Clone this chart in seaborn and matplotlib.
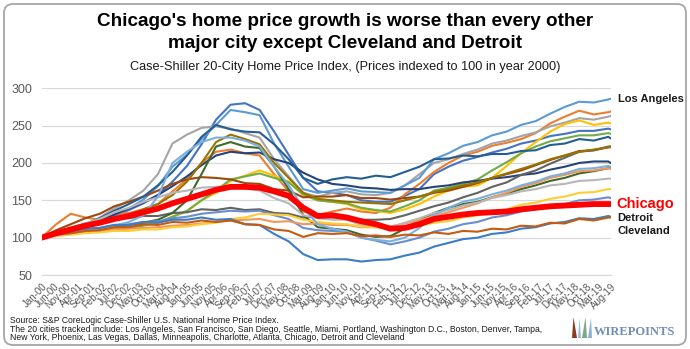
import numpy as np
import pandas as pd
import matplotlib
matplotlib.use("Agg")
import matplotlib.pyplot as plt
import seaborn as sns
from matplotlib.patches import FancyBboxPatch, Polygon

# ---------------- data (semi-annual readings, Jan & Jul, plus Aug-19) ----------------
periods = [f"{y}-{m:02d}" for y in range(2000, 2020) for m in (1, 7)] + ["2019-08"]

miami = [100,104,109,115,121,129,137,146,157,175,196,225,258,278,280,271,242,211,180,162,
         160,157,150,148,148,156,165,185,195,203,208,214,219,226,230,236,239,243,243,246,245]
san_francisco = [100,118,132,127,124,131,133,138,145,162,178,200,215,218,213,210,185,162,135,130,
                 135,139,135,133,140,158,172,188,200,210,215,223,227,232,240,253,262,270,265,268,269]
san_diego = [100,107,112,118,127,139,150,163,185,226,238,247,249,246,240,234,205,182,160,155,
             160,162,158,157,160,170,185,200,205,212,218,226,230,236,241,249,254,260,258,262,263]
seattle = [100,104,106,109,110,113,114,118,120,128,135,150,160,176,183,190,183,175,157,150,
           148,145,138,136,133,138,145,155,163,168,170,180,196,213,228,242,252,257,251,254,253]
los_angeles = [100,104,109,114,120,130,139,151,169,195,211,232,251,271,268,264,226,195,165,160,
               163,166,162,161,160,170,180,205,213,223,228,237,242,251,256,266,275,282,281,285,286]
portland = [100,103,105,107,109,111,113,116,120,128,136,150,163,178,182,186,180,174,158,150,
            148,146,140,137,135,142,150,163,167,172,178,190,201,213,222,229,233,237,237,240,239]
new_york = [100,105,110,116,122,131,139,147,157,169,182,197,210,215,213,214,205,200,187,178,
            172,170,167,166,164,165,165,168,170,174,176,179,181,184,186,191,195,200,202,202,200]
boston = [100,110,118,126,132,142,148,155,163,172,178,181,180,178,173,172,165,163,154,155,
          155,157,153,153,151,153,155,160,163,168,173,180,185,190,197,204,210,216,217,221,222]
denver = [100,108,113,119,122,126,126,129,129,133,134,138,137,140,137,138,133,132,127,128,
          127,128,124,124,125,130,136,142,147,154,160,168,174,184,190,199,207,215,217,222,222]
tampa = [100,104,109,114,119,125,131,138,145,157,175,200,228,238,232,225,200,180,160,152,
         150,148,147,146,145,150,155,161,165,170,174,180,186,192,198,205,210,215,218,221,221]
washington = [100,106,111,118,126,136,145,155,170,188,210,235,251,245,242,241,225,205,180,172,
              178,181,179,183,181,188,195,205,206,210,209,212,212,216,217,224,226,232,230,235,233]
phoenix = [100,103,106,108,111,114,117,120,124,133,150,185,222,228,222,220,195,165,130,114,
           112,110,104,101,102,112,123,133,140,145,148,154,159,165,170,176,180,186,189,193,194]
atlanta = [100,104,107,111,113,117,118,121,122,126,128,132,134,136,135,136,130,125,113,110,
           109,108,100,96,91,95,100,108,112,118,121,127,130,135,138,143,145,150,151,154,153]
dallas = [100,103,106,108,110,111,112,113,114,116,117,119,121,123,124,125,121,122,118,119,
          117,117,114,114,115,119,123,129,134,140,146,154,160,168,173,180,184,189,190,193,192]
minneapolis = [100,106,112,119,125,134,140,148,154,160,163,167,168,169,166,163,153,146,130,126,
               124,124,117,116,114,120,126,133,137,143,147,153,157,162,165,170,172,176,177,179,179]
charlotte = [100,102,104,106,107,109,109,111,111,114,115,118,120,125,127,132,131,130,124,121,
             119,118,115,114,112,114,116,120,122,127,130,135,138,144,147,152,155,160,161,165,165]
las_vegas = [100,103,106,109,112,116,121,130,155,200,215,228,234,234,230,222,195,170,140,118,
             112,108,100,97,95,100,113,130,140,148,152,158,163,170,175,182,186,192,193,196,195]
detroit = [100,105,108,112,113,117,117,121,120,124,124,127,124,125,118,117,105,95,78,70,
           71,71,68,70,71,76,80,88,93,98,100,105,107,112,114,119,121,126,125,129,128]
cleveland = [100,104,106,109,110,114,114,118,117,121,120,123,121,123,118,117,111,109,101,106,
             105,106,102,103,101,104,103,107,105,109,108,112,111,116,115,120,119,125,123,127,127]
chicago = [100,106,111,116,120,125,129,134,139,146,152,158,164,168,168,167,162,156,140,129,
           130,127,122,118,112,113,118,125,128,131,133,134,135,138,140,142,143,144,145,145,145]

series = {
    "Miami": miami, "San Francisco": san_francisco, "San Diego": san_diego,
    "Seattle": seattle, "Los Angeles": los_angeles, "Portland": portland,
    "New York": new_york, "Boston": boston, "Denver": denver, "Tampa": tampa,
    "Washington D.C.": washington, "Phoenix": phoenix, "Atlanta": atlanta,
    "Dallas": dallas, "Minneapolis": minneapolis, "Charlotte": charlotte,
    "Las Vegas": las_vegas, "Detroit": detroit, "Cleveland": cleveland,
    "Chicago": chicago,
}
colors = {
    "Miami": "#4472C4", "San Francisco": "#ED7D31", "San Diego": "#A5A5A5",
    "Seattle": "#FFC000", "Los Angeles": "#5B9BD5", "Portland": "#70AD47",
    "New York": "#264478", "Boston": "#9E480E", "Denver": "#636363",
    "Tampa": "#997300", "Washington D.C.": "#255E91", "Phoenix": "#43682B",
    "Atlanta": "#698ED0", "Dallas": "#F1975A", "Minneapolis": "#B7B7B7",
    "Charlotte": "#FFCD33", "Las Vegas": "#7CAFDD", "Detroit": "#3B7DC6",
    "Cleveland": "#C55A11", "Chicago": "#FF0000",
}

# ---------------- build long table ----------------
dates = pd.to_datetime(periods, format="%Y-%m")
midx = (dates.year - 2000) * 12 + dates.month - 1
rows = []
for city, vals in series.items():
    for m, v in zip(midx, vals):
        rows.append((city, m, v))
df = pd.DataFrame(rows, columns=["city", "month", "index"])

tick_dates = pd.date_range("2000-01-01", "2019-08-01", freq="5MS")
tick_pos = (tick_dates.year - 2000) * 12 + tick_dates.month - 1
tick_labels = [d.strftime("%b-%y") for d in tick_dates]

# ---------------- figure ----------------
sns.set_theme(style="white")
plt.rcParams["font.family"] = ["Liberation Sans", "DejaVu Sans"]

W, H = 690, 349
fig = plt.figure(figsize=(W / 100, H / 100), dpi=100)

# frame / decoration layer in pixel coordinates
bg = fig.add_axes([0, 0, 1, 1], zorder=0)
bg.set_xlim(0, W)
bg.set_ylim(H, 0)
bg.axis("off")
bg.add_patch(FancyBboxPatch((4, 4), W - 8, H - 8,
                            boxstyle="round,pad=0,rounding_size=9",
                            fill=False, ec="#A6A6A6", lw=1.3))

ax = fig.add_axes([41.7 / W, 1 - 275 / H, (610.7 - 41.7) / W, (275 - 88.3) / H], zorder=1)
ax.patch.set_alpha(0)

others = df[df.city != "Chicago"]
order = [c for c in series if c != "Chicago"]
sns.lineplot(data=others, x="month", y="index", hue="city", hue_order=order,
             palette=colors, linewidth=1.5, legend=False, ax=ax,
             estimator=None, sort=True)
sns.lineplot(data=df[df.city == "Chicago"], x="month", y="index",
             color=colors["Chicago"], linewidth=4.2, legend=False, ax=ax,
             estimator=None, sort=True)

ax.set_xlim(0, 235)
ax.set_ylim(50, 300)
ax.set_yticks(range(50, 301, 50))
ax.set_xticks(tick_pos)
ax.set_xticklabels(tick_labels, rotation=45, ha="right", rotation_mode="anchor",
                   fontsize=7, color="#595959")
ax.tick_params(axis="y", labelsize=9, labelcolor="#595959", length=0, pad=7)
ax.tick_params(axis="x", length=3, color="#D9D9D9", width=0.8, pad=1.5, direction="out")
ax.set_xlabel("")
ax.set_ylabel("")
ax.yaxis.grid(True, color="#D9D9D9", lw=0.9)
ax.xaxis.grid(False)
for s in ("left", "right", "top"):
    ax.spines[s].set_visible(False)
ax.spines["bottom"].set_color("#D9D9D9")
ax.spines["bottom"].set_linewidth(0.9)

# end labels
last = len(periods) - 1
end_x = midx[last]
ax.annotate("Los Angeles", (end_x, los_angeles[last]), xytext=(5, 0),
            textcoords="offset points", va="center", ha="left",
            fontsize=8, fontweight="bold", color="#1A1A1A", annotation_clip=False)
ax.annotate("Chicago", (end_x, chicago[last]), xytext=(4, 0),
            textcoords="offset points", va="center", ha="left",
            fontsize=10.5, fontweight="bold", color="#FF0000", annotation_clip=False)
ax.annotate("Detroit", (end_x, detroit[last]), xytext=(5, -1),
            textcoords="offset points", va="center", ha="left",
            fontsize=8, fontweight="bold", color="#1A1A1A", annotation_clip=False)
ax.annotate("Cleveland", (end_x, cleveland[last]), xytext=(5, -10),
            textcoords="offset points", va="center", ha="left",
            fontsize=8, fontweight="bold", color="#1A1A1A", annotation_clip=False)

# titles
fig.text(0.5, 1 - 21 / H, "Chicago's home price growth is worse than every other",
         ha="center", va="center", fontsize=13.6, fontweight="bold", color="#000000")
fig.text(0.5, 1 - 44 / H, "major city except Cleveland and Detroit",
         ha="center", va="center", fontsize=13.6, fontweight="bold", color="#000000")
fig.text(0.5, 1 - 67 / H, "Case-Shiller 20-City Home Price Index, (Prices indexed to 100 in year 2000)",
         ha="center", va="center", fontsize=9.2, color="#1A1A1A")

# source
src = ["Source: S&P CoreLogic Case-Shiller U.S. National Home Price Index.",
       "The 20 cities tracked include: Los Angeles, San Francisco, San Diego, Seattle, Miami, Portland, Washington D.C., Boston, Denver, Tampa,",
       "New York, Phoenix, Las Vegas, Dallas, Minneapolis, Charlotte, Atlanta, Chicago, Detroit and Cleveland"]
for i, line in enumerate(src):
    fig.text(10 / W, 1 - (320.7 + 8.4 * i) / H, line, ha="left", va="center",
             fontsize=6.2, color="#1A1A1A")

# logo
wedges = [((572, 338), (577, 338), (573.5, 317), "#8B3A1E"),
          ((578, 338), (581, 338), (579.5, 318), "#9DB9D6"),
          ((582, 338), (587, 338), (585.5, 317), "#7FA982"),
          ((588, 338), (592, 338), (591, 318), "#8DB0D4")]
for a, b, c, col in wedges:
    bg.add_patch(Polygon([a, b, c], closed=True, fc=col, ec="none"))
bg.text(594, 332, "WIREPOINTS", ha="left", va="center", fontsize=9,
        fontweight="bold", family=["Liberation Serif", "DejaVu Serif"], color="#6F8FB6")

fig.savefig("out.png", dpi=100)
